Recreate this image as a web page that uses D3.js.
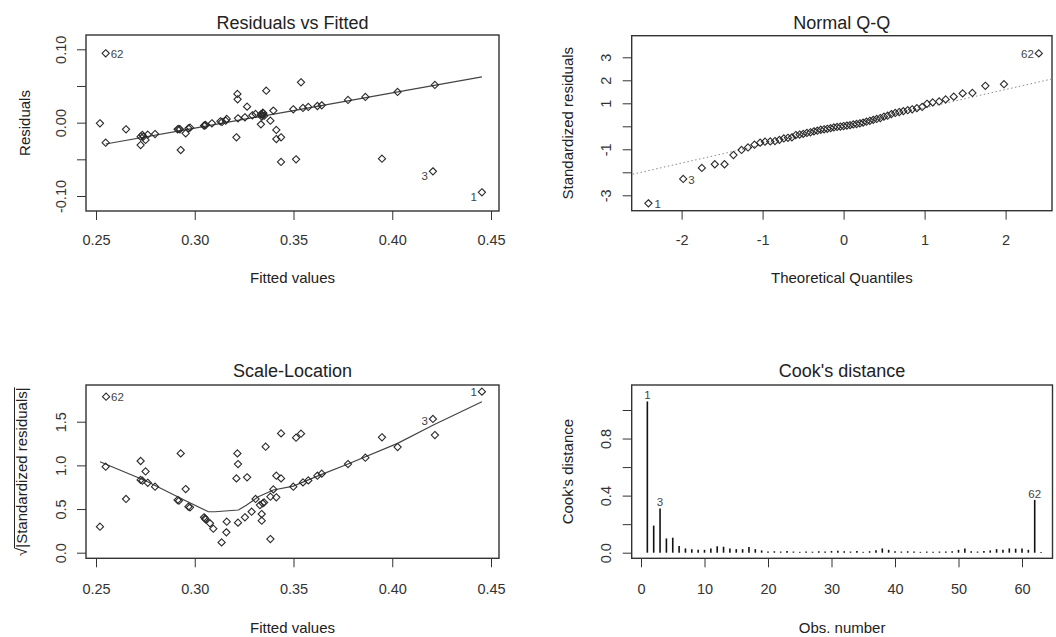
<!DOCTYPE html>
<html><head><meta charset="utf-8">
<script src="https://cdn.jsdelivr.net/npm/d3@7"></script>
<style>
html,body{margin:0;padding:0;background:#fff;}
svg{display:block;font-family:"Liberation Sans",Arial,sans-serif;}
</style></head><body>
<svg id="chart" width="1056" height="637"></svg>
<script>
// ---------- Panel 1: Residuals vs Fitted ----------
const fitted1 = [0.2549,0.2520,0.2549,0.2652,0.2726,0.2735,0.2726,0.2751,0.2762,0.2799,0.2913,0.2920,0.2954,0.2929,0.2968,0.2976,0.3047,0.3055,0.3087,0.3138,0.3162,0.3157,0.3216,0.3217,0.3211,0.3219,0.3265,0.3254,0.3292,0.3308,0.3342,0.3347,0.3335,0.3362,0.3383,0.3398,0.3413,0.3413,0.3437,0.3437,0.3499,0.3513,0.3538,0.3548,0.3575,0.3621,0.3643,0.3776,0.3864,0.3948,0.4027,0.4206,0.4216,0.4454,0.3335,0.3352,0.3340,0.3345,0.3130,0.3050,0.2740,0.2925];
const resid1 = [0.0945,-0.0009,-0.0273,-0.0091,-0.0191,-0.0168,-0.0305,-0.0236,-0.0164,-0.0155,-0.0091,-0.0086,-0.0145,-0.0373,-0.0077,-0.0068,-0.0041,-0.0032,-0.0009,0.0009,0.0050,0.0027,0.0391,0.0318,-0.0200,0.0059,0.0218,0.0073,0.0100,0.0118,0.0105,0.0127,-0.0023,0.0436,0.0027,0.0164,-0.0100,-0.0223,-0.0200,-0.0536,0.0182,-0.0500,0.0550,0.0200,0.0214,0.0227,0.0236,0.0309,0.0350,-0.0491,0.0418,-0.0664,0.0514,-0.0950,0.0114,0.0095,0.0082,0.0136,0.0018,-0.0038,-0.0190,-0.0090];
const smooth1X = [0.2549,0.30,0.35,0.40,0.4454];
const smooth1Y = [-0.0291,-0.0075,0.0165,0.0405,0.0624];
const labels1 = [{i:0,t:"62"},{i:51,t:"3"},{i:53,t:"1"}];
const fittedTicks = [0.25,0.30,0.35,0.40,0.45];
const fittedTickLabels = ["0.25","0.30","0.35","0.40","0.45"];
const residTicks = [-0.10,-0.05,0,0.05,0.10];
const residTickLabels = ["-0.10","","0.00","","0.10"];

// ---------- Panel 2: Normal Q-Q ----------
const qqTheo = [-2.41,-1.98,-1.75,-1.59,-1.47,-1.36,-1.26,-1.18,-1.10,-1.03,-0.97,-0.905,-0.847,-0.792,-0.738,-0.687,-0.638,-0.590,-0.543,-0.498,-0.453,-0.409,-0.366,-0.324,-0.282,-0.241,-0.201,-0.160,-0.120,-0.080,-0.040,0,0.040,0.080,0.120,0.160,0.201,0.241,0.282,0.324,0.366,0.409,0.453,0.498,0.543,0.590,0.638,0.687,0.738,0.792,0.847,0.905,0.97,1.03,1.10,1.18,1.26,1.36,1.47,1.59,1.75,1.98,2.41];
const qqStd = [-3.35,-2.29,-1.81,-1.65,-1.65,-1.25,-1.03,-0.92,-0.80,-0.71,-0.67,-0.66,-0.64,-0.59,-0.53,-0.50,-0.48,-0.38,-0.36,-0.33,-0.29,-0.26,-0.22,-0.19,-0.15,-0.13,-0.11,-0.08,-0.05,-0.03,-0.01,0.01,0.03,0.05,0.08,0.10,0.13,0.16,0.20,0.24,0.28,0.32,0.36,0.42,0.46,0.53,0.58,0.62,0.66,0.70,0.74,0.79,0.84,0.98,1.04,1.08,1.17,1.29,1.43,1.45,1.76,1.83,3.17];
const qqLineX = [-2.7,2.7];
const qqLineY = [-2.16,2.16];
const labels2 = [{i:0,t:"1"},{i:1,t:"3"},{i:62,t:"62"}];
const qqXTicks = [-2,-1,0,1,2];
const qqXTickLabels = ["-2","-1","0","1","2"];
const qqYTicks = [-3,-2,-1,0,1,2,3];
const qqYTickLabels = ["-3","","-1","","1","2","3"];

// ---------- Panel 3: Scale-Location ----------
const fitted3 = [0.2551,0.2520,0.2549,0.2652,0.2726,0.2751,0.2735,0.2726,0.2762,0.2799,0.2913,0.2920,0.2929,0.2954,0.2968,0.2976,0.3047,0.3052,0.3055,0.3077,0.3094,0.3136,0.3162,0.3160,0.3216,0.3219,0.3211,0.3219,0.3265,0.3254,0.3288,0.3308,0.3330,0.3344,0.3351,0.3339,0.3339,0.3359,0.3383,0.3383,0.3398,0.3413,0.3413,0.3437,0.3437,0.3499,0.3513,0.3538,0.3548,0.3575,0.3621,0.3643,0.3776,0.3864,0.3948,0.4027,0.4206,0.4216,0.4454];
const sqrtStd3 = [1.786,0.298,0.985,0.615,1.050,0.930,0.824,0.833,0.800,0.756,0.603,0.595,1.137,0.729,0.527,0.519,0.405,0.393,0.382,0.336,0.275,0.118,0.355,0.233,1.137,1.015,0.851,0.344,0.863,0.405,0.469,0.615,0.546,0.565,0.576,0.443,0.366,1.214,0.156,0.641,0.725,0.882,0.634,1.366,0.851,0.756,1.317,1.363,0.805,0.828,0.882,0.905,1.015,1.088,1.321,1.210,1.531,1.347,1.844];
const smooth3X = [0.252,0.2751,0.2954,0.3069,0.3103,0.3221,0.3263,0.3322,0.3398,0.3499,0.3643,0.3776,0.4027,0.4208,0.4454];
const smooth3Y = [1.042,0.824,0.595,0.469,0.469,0.489,0.546,0.641,0.718,0.763,0.897,1.015,1.252,1.462,1.729];
const labels3 = [{i:0,t:"62"},{i:56,t:"3"},{i:58,t:"1"}];
const slTicks = [0,0.5,1.0,1.5];
const slTickLabels = ["0.0","0.5","1.0","1.5"];

// ---------- Panel 4: Cook's distance ----------
const cookDist = [1.06,0.19,0.31,0.10,0.105,0.047,0.03,0.025,0.02,0.02,0.03,0.045,0.042,0.03,0.025,0.025,0.04,0.025,0.016,0.008,0.01,0.008,0.012,0.008,0.006,0.008,0.007,0.01,0.008,0.012,0.014,0.01,0.008,0.012,0.006,0.01,0.018,0.03,0.02,0.01,0.008,0.01,0.008,0.006,0.008,0.007,0.008,0.008,0.01,0.02,0.03,0.01,0.008,0.012,0.016,0.025,0.02,0.03,0.028,0.03,0.02,0.37,0.005];
const labels4 = [{i:0,t:"1"},{i:2,t:"3"},{i:61,t:"62"}];
const obsTicks = [0,10,20,30,40,50,60];
const obsTickLabels = ["0","10","20","30","40","50","60"];
const cookTicks = [0,0.2,0.4,0.6,0.8,1.0];
const cookTickLabels = ["0.0","","0.4","","0.8",""];

// ---------- drawing ----------
const svg = d3.select("#chart");
svg.append("rect").attr("width",1056).attr("height",637).attr("fill","#fff");
const INK = "#2a2a2a";

function frame(c) {
  const g = svg.append("g");
  const [l,t,r,b] = c.box;
  g.append("text").attr("x",(l+r)/2).attr("y",c.titleY).attr("text-anchor","middle")
    .attr("font-size",18).attr("fill","#222").text(c.title);
  const xa = g.append("g").attr("transform",`translate(0,${b})`)
    .call(d3.axisBottom(c.x).tickValues(c.xTicks).tickSize(9).tickSizeOuter(0)
      .tickFormat((d,i)=>c.xLabels[i]));
  xa.attr("font-family",null).attr("font-size",14.5).attr("color","#333");
  xa.select(".domain").remove();
  xa.selectAll("text").attr("y",c.xLabY).attr("dy",0).attr("fill","#333");
  const ya = g.append("g").attr("transform",`translate(${l},0)`)
    .call(d3.axisLeft(c.y).tickValues(c.yTicks).tickSize(9).tickSizeOuter(0)
      .tickFormat((d,i)=>c.yLabels[i]));
  ya.attr("font-family",null).attr("font-size",14.5).attr("color","#333");
  ya.select(".domain").remove();
  ya.selectAll("text").attr("transform","rotate(-90)").attr("x",0).attr("y",-c.yLabOff)
    .attr("dy",0).attr("text-anchor","middle").attr("fill","#333");
  g.append("text").attr("x",(l+r)/2).attr("y",c.xTitleY).attr("text-anchor","middle")
    .attr("font-size",15).attr("fill","#222").text(c.xTitle);
  if (c.yTitle) {
    g.append("text").attr("transform",`translate(${c.yTitleX},${(t+b)/2}) rotate(-90)`)
      .attr("text-anchor","middle").attr("font-size",15).attr("fill","#222").text(c.yTitle);
  }
  g.append("rect").attr("x",l).attr("y",t).attr("width",r-l).attr("height",b-t)
    .attr("fill","none").attr("stroke","#333").attr("stroke-width",1.4);
  return g;
}
const diamond = "M0,-3.6L3.6,0L0,3.6L-3.6,0Z";
function points(g, xs, ys, x, y) {
  g.append("g").selectAll("path").data(xs).join("path")
    .attr("d",diamond).attr("transform",(d,i)=>`translate(${x(d)},${y(ys[i])})`)
    .attr("fill","none").attr("stroke",INK).attr("stroke-width",1.1);
}
function ptLabels(g, labs, xs, ys, x, y, place) {
  labs.forEach(L => {
    const px = x(xs[L.i]), py = y(ys[L.i]);
    const p = place[L.t];
    g.append("text").attr("x",px+p[0]).attr("y",py+p[1]).attr("text-anchor",p[2])
      .attr("font-size",11.5).attr("fill","#444").text(L.t);
  });
}

// Panel 1
{
  const x = d3.scaleLinear().domain([0.25,0.45]).range([96,491]);
  const y = d3.scaleLinear().domain([-0.10,0.10]).range([196,49.3]);
  const g = frame({box:[86,35,499,211], title:"Residuals vs Fitted", titleY:28.5,
    x, y, xTicks:fittedTicks, xLabels:fittedTickLabels, xLabY:34,
    yTicks:residTicks, yLabels:residTickLabels, yLabOff:20,
    xTitle:"Fitted values", xTitleY:283, yTitle:"Residuals", yTitleX:30});
  g.append("path").datum(smooth1X).attr("fill","none").attr("stroke","#444").attr("stroke-width",1.2)
    .attr("d", d3.line().x(d=>x(d)).y((d,i)=>y(smooth1Y[i])));
  points(g, fitted1, resid1, x, y);
  ptLabels(g, labels1, fitted1, resid1, x, y, {"62":[5,4.5,"start"],"3":[-5,8.5,"end"],"1":[-5,8.5,"end"]});
}
// Panel 2
{
  const x = d3.scaleLinear().domain([-2,2]).range([681.6,1005.6]);
  const y = d3.scaleLinear().domain([-3,3]).range([195.3,57.3]);
  const box = [631.7,35.7,1052,210.7];
  const g = frame({box, title:"Normal Q-Q", titleY:28.5,
    x, y, xTicks:qqXTicks, xLabels:qqXTickLabels, xLabY:34,
    yTicks:qqYTicks, yLabels:qqYTickLabels, yLabOff:21,
    xTitle:"Theoretical Quantiles", xTitleY:283, yTitle:"Standardized residuals", yTitleX:573});
  svg.append("clipPath").attr("id","qqclip").append("rect")
    .attr("x",box[0]).attr("y",box[1]).attr("width",box[2]-box[0]).attr("height",box[3]-box[1]);
  g.append("path").datum(qqLineX).attr("clip-path","url(#qqclip)").attr("fill","none")
    .attr("stroke","#8a8a8a").attr("stroke-width",1).attr("stroke-dasharray","1.5,2.5")
    .attr("d", d3.line().x(d=>x(d)).y((d,i)=>y(qqLineY[i])));
  points(g, qqTheo, qqStd, x, y);
  ptLabels(g, labels2, qqTheo, qqStd, x, y, {"1":[6,5,"start"],"3":[5,5,"start"],"62":[-5,4.5,"end"]});
}
// Panel 3
{
  const x = d3.scaleLinear().domain([0.25,0.45]).range([96,491]);
  const y = d3.scaleLinear().domain([0,1.5]).range([552.7,421.7]);
  const g = frame({box:[86,385,499,558.3], title:"Scale-Location", titleY:376.5,
    x, y, xTicks:fittedTicks, xLabels:fittedTickLabels, xLabY:36,
    yTicks:slTicks, yLabels:slTickLabels, yLabOff:20,
    xTitle:"Fitted values", xTitleY:633, yTitle:null});
  // y title with radical sign and overline
  const yt = g.append("g").attr("transform",`translate(27,${(385+558.3)/2}) rotate(-90)`);
  const tt = yt.append("text").attr("text-anchor","middle").attr("font-size",15).attr("fill","#222")
    .text("√|Standardized residuals|");
  const node = tt.node();
  const W = node.getComputedTextLength();
  const w1 = node.getSubStringLength(0,1);
  yt.append("line").attr("x1",-W/2+w1-0.5).attr("x2",W/2).attr("y1",-12.5).attr("y2",-12.5)
    .attr("stroke","#222").attr("stroke-width",1);
  g.append("path").datum(smooth3X).attr("fill","none").attr("stroke","#444").attr("stroke-width",1.2)
    .attr("d", d3.line().x(d=>x(d)).y((d,i)=>y(smooth3Y[i])));
  points(g, fitted3, sqrtStd3, x, y);
  ptLabels(g, labels3, fitted3, sqrtStd3, x, y, {"62":[5,4.5,"start"],"3":[-5,6,"end"],"1":[-5,4.5,"end"]});
}
// Panel 4
{
  const x = d3.scaleLinear().domain([0,60]).range([641,1022]);
  const y = d3.scaleLinear().domain([0,1.0]).range([552.7,410]);
  const g = frame({box:[631.7,385,1052.5,558.3], title:"Cook's distance", titleY:376.5,
    x, y, xTicks:obsTicks, xLabels:obsTickLabels, xLabY:36,
    yTicks:cookTicks, yLabels:cookTickLabels, yLabOff:21,
    xTitle:"Obs. number", xTitleY:633, yTitle:"Cook's distance", yTitleX:573});
  g.append("g").selectAll("line").data(cookDist).join("line")
    .attr("x1",(d,i)=>x(i+1)).attr("x2",(d,i)=>x(i+1))
    .attr("y1",y(0)).attr("y2",d=>y(d))
    .attr("stroke","#111").attr("stroke-width",1.6);
  labels4.forEach(L => {
    g.append("text").attr("x",x(L.i+1)).attr("y",y(cookDist[L.i])-2).attr("text-anchor","middle")
      .attr("font-size",11.5).attr("fill","#444").text(L.t);
  });
}
</script>
</body></html>
